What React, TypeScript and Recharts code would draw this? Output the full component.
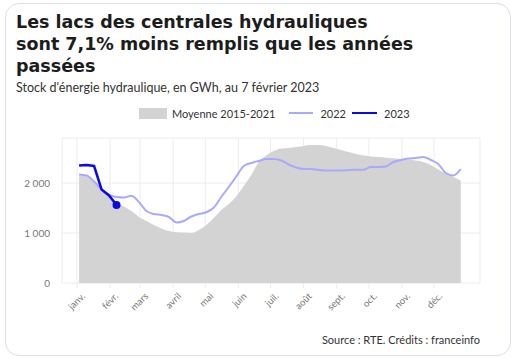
import React from 'react';
import {
  ComposedChart,
  Area,
  Line,
  XAxis,
  YAxis,
  CartesianGrid,
} from 'recharts';

// weekly points, day of year of each reading
const weekDays = Array.from({ length: 52 }, (_, i) => 3 + 7 * i);

const moyenne = [
  2160, 2130, 2020, 1870, 1750, 1620, 1530, 1440, 1320, 1240, 1160, 1090, 1040,
  1015, 1010, 1000, 1060, 1160, 1300, 1460, 1580, 1730, 1940, 2160, 2420, 2550,
  2640, 2690, 2700, 2720, 2740, 2760, 2760, 2740, 2700, 2660, 2620, 2580, 2550,
  2530, 2520, 2505, 2495, 2480, 2470, 2450, 2420, 2360, 2270, 2190, 2120, 2050,
];

const stock2022 = [
  2170, 2150, 2030, 1870, 1760, 1720, 1710, 1745, 1620, 1440, 1380, 1360, 1320,
  1210, 1240, 1330, 1380, 1415, 1510, 1720, 1920, 2130, 2340, 2400, 2440, 2480,
  2480, 2450, 2370, 2310, 2280, 2280, 2260, 2250, 2250, 2250, 2260, 2265, 2265,
  2320, 2320, 2330, 2420, 2460, 2490, 2500, 2520, 2460, 2380, 2200, 2150, 2280,
];

const stock2023 = [2350, 2360, 2340, 1870, 1750, 1560];

const monthStarts = [1, 32, 60, 91, 121, 152, 182, 213, 244, 274, 305, 335];
const monthLabels = [
  'janv.', 'févr.', 'mars', 'avril', 'mai', 'juin',
  'juil.', 'août', 'sept.', 'oct.', 'nov.', 'déc.',
];

const yTicks = [0, 1000, 2000];

const data = weekDays.map((day, i) => ({
  day,
  moyenne: moyenne[i],
  y2022: stock2022[i],
  y2023: i < stock2023.length ? stock2023[i] : undefined,
}));

const FONT = 'Lato, "Open Sans", sans-serif';

const MonthTick = (props: any) => {
  const { x, y, payload } = props;
  const idx = monthStarts.indexOf(payload.value);
  const tx = x + 4;
  const ty = y + 2;
  return (
    <text
      x={tx}
      y={ty}
      transform={`rotate(-45 ${tx} ${ty})`}
      textAnchor="end"
      fontSize={9.5}
      fill="#777"
      fontFamily={FONT}
      dy="0.71em"
    >
      {monthLabels[idx]}
    </text>
  );
};

const fmt = (v: number) => (v === 0 ? '0' : `${Math.floor(v / 1000)} 000`);

const titleLines = [
  'Les lacs des centrales hydrauliques',
  'sont 7,1% moins remplis que les années',
  'passées',
];

export default function App() {
  const lastIdx = stock2023.length - 1;
  return (
    <div
      style={{
        position: 'absolute',
        left: 0,
        top: 0,
        width: 515,
        height: 359,
        background: '#fff',
        fontFamily: FONT,
      }}
    >
      <div
        style={{
          position: 'absolute',
          left: 5,
          top: 3,
          width: 504,
          height: 351,
          border: '1px solid #d8e0e8',
          borderRadius: 14,
        }}
      />
      {titleLines.map((t, i) => (
        <div
          key={t}
          style={{
            position: 'absolute',
            left: 16,
            top: 12 + i * 22,
            fontSize: 17.5,
            lineHeight: '21px',
            fontWeight: 700,
            fontFamily: '"DejaVu Sans", sans-serif',
            color: '#1c1c1c',
            whiteSpace: 'nowrap',
          }}
        >
          {t}
        </div>
      ))}
      <div
        style={{
          position: 'absolute',
          left: 16,
          top: 80,
          fontSize: 12.5,
          color: '#333',
        }}
      >
        Stock d'énergie hydraulique, en GWh, au 7 février 2023
      </div>

      {/* legend */}
      <div
        style={{
          position: 'absolute',
          left: 139,
          top: 106,
          height: 14,
          display: 'flex',
          alignItems: 'center',
          fontSize: 11,
          color: '#333',
          whiteSpace: 'nowrap',
        }}
      >
        <span style={{ width: 28, height: 11, background: '#d3d3d3', marginRight: 5 }} />
        <span style={{ marginRight: 14 }}>Moyenne 2015-2021</span>
        <span style={{ width: 24, height: 2, background: '#a9a9ff', marginRight: 7 }} />
        <span style={{ marginRight: 6 }}>2022</span>
        <span style={{ width: 25, height: 2.5, background: '#0a0ae6', marginRight: 7 }} />
        <span>2023</span>
      </div>

      <div style={{ position: 'absolute', left: 0, top: 0 }}>
        <ComposedChart
          width={515}
          height={359}
          data={data}
          margin={{ top: 138, left: 22, right: 35, bottom: 36 }}
        >
          <CartesianGrid stroke="#ececec" />
          <XAxis
            dataKey="day"
            type="number"
            domain={[-13, 378]}
            ticks={monthStarts}
            interval={0}
            axisLine={false}
            tickLine={{ stroke: '#ececec' }}
            tickSize={5}
            tick={<MonthTick />}
            height={40}
          />
          <YAxis
            type="number"
            domain={[0, 2900]}
            ticks={yTicks}
            axisLine={false}
            tickLine={false}
            width={40}
            tickFormatter={fmt}
            tick={{ fontSize: 10, fill: '#777', fontFamily: FONT }}
            tickMargin={6}
          />
          <Area
            dataKey="moyenne"
            type="monotone"
            fill="#d3d3d3"
            fillOpacity={1}
            stroke="none"
            isAnimationActive={false}
          />
          <Line
            dataKey="y2022"
            type="monotone"
            stroke="#a9a9ff"
            strokeWidth={2}
            dot={false}
            isAnimationActive={false}
          />
          <Line
            dataKey="y2023"
            type="linear"
            stroke="#0a0ae6"
            strokeWidth={2.5}
            dot={(p: any) =>
              p.index === lastIdx ? (
                <circle key="last" cx={p.cx} cy={p.cy} r={4} fill="#0a0ae6" />
              ) : (
                <g key={p.index} />
              )
            }
            isAnimationActive={false}
          />
        </ComposedChart>
      </div>

      <div
        style={{
          position: 'absolute',
          right: 35,
          top: 333,
          fontSize: 11,
          color: '#333',
        }}
      >
        Source : RTE. Crédits : franceinfo
      </div>
    </div>
  );
}
